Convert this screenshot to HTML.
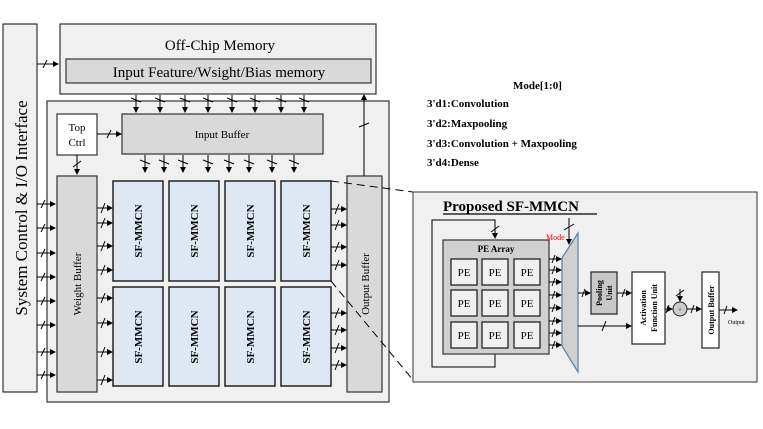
<!DOCTYPE html>
<html><head><meta charset="utf-8"><style>
html,body{margin:0;padding:0;background:#fff;}
svg{display:block;font-family:"Liberation Serif",serif;}
</style></head><body>
<svg width="763" height="429" viewBox="0 0 763 429" xmlns="http://www.w3.org/2000/svg">
<defs>
<marker id="a" markerWidth="6" markerHeight="6" refX="5" refY="3" orient="auto" markerUnits="userSpaceOnUse"><path d="M0,0 L6,3 L0,6 z" fill="#000"/></marker>
</defs>
<!-- System control -->
<rect x="3" y="24" width="34" height="368" fill="#f0f0f0" stroke="#333" stroke-width="1.2"/>
<text transform="translate(27,208) rotate(-90)" text-anchor="middle" font-size="17">System Control &amp; I/O Interface</text>
<!-- Off-chip -->
<rect x="60" y="24" width="316" height="70" fill="#f0f0f0" stroke="#333" stroke-width="1.2"/>
<text x="220" y="50" text-anchor="middle" font-size="15">Off-Chip Memory</text>
<rect x="66" y="59" width="305" height="24" fill="#d9d9d9" stroke="#333" stroke-width="1.2"/>
<text x="219" y="77" text-anchor="middle" font-size="15">Input Feature/Wsight/Bias memory</text>
<!-- main chip -->
<rect x="47" y="101" width="342" height="301" fill="#f0f0f0" stroke="#333" stroke-width="1.2"/>
<rect x="57" y="114" width="40" height="41" fill="#fff" stroke="#333" stroke-width="1.2"/>
<text x="77" y="131" text-anchor="middle" font-size="11">Top</text>
<text x="77" y="146" text-anchor="middle" font-size="11">Ctrl</text>
<rect x="122" y="114" width="201" height="40" fill="#d9d9d9" stroke="#333" stroke-width="1.2"/>
<text x="222" y="138" text-anchor="middle" font-size="11">Input Buffer</text>
<rect x="57" y="176" width="40" height="216" fill="#d9d9d9" stroke="#333" stroke-width="1.2"/>
<text transform="translate(81,284) rotate(-90)" text-anchor="middle" font-size="11">Weight Buffer</text>
<rect x="347" y="176" width="35" height="216" fill="#d9d9d9" stroke="#333" stroke-width="1.2"/>
<text transform="translate(369,284) rotate(-90)" text-anchor="middle" font-size="11">Output Buffer</text>
<g fill="#dde8f4" stroke="#222" stroke-width="1.5">
<rect x="113" y="181" width="50" height="100"/><rect x="169" y="181" width="50" height="100"/><rect x="225" y="181" width="50" height="100"/><rect x="281" y="181" width="50" height="100"/>
<rect x="113" y="287" width="50" height="99"/><rect x="169" y="287" width="50" height="99"/><rect x="225" y="287" width="50" height="99"/><rect x="281" y="287" width="50" height="99"/>
</g>
<g font-size="11" font-weight="bold" text-anchor="middle">
<text transform="translate(142,231) rotate(-90)">SF-MMCN</text><text transform="translate(198,231) rotate(-90)">SF-MMCN</text><text transform="translate(254,231) rotate(-90)">SF-MMCN</text><text transform="translate(310,231) rotate(-90)">SF-MMCN</text>
<text transform="translate(142,337) rotate(-90)">SF-MMCN</text><text transform="translate(198,337) rotate(-90)">SF-MMCN</text><text transform="translate(254,337) rotate(-90)">SF-MMCN</text><text transform="translate(310,337) rotate(-90)">SF-MMCN</text>
</g>
<g stroke="#000" stroke-width="1" fill="none">
<!-- sys -> offchip -->
<line x1="37" y1="64" x2="58" y2="64" marker-end="url(#a)"/><line x1="43" y1="68" x2="47" y2="60"/>
<!-- sys -> weight -->
<g id="sw">
<line x1="37" y1="204" x2="55" y2="204" marker-end="url(#a)"/><line x1="41" y1="208" x2="45" y2="200"/>
</g>
<use href="#sw" y="24"/><use href="#sw" y="49"/><use href="#sw" y="73"/><use href="#sw" y="97"/><use href="#sw" y="121"/><use href="#sw" y="148"/><use href="#sw" y="171"/>
<!-- offchip -> input buf -->
<g id="od"><line x1="136" y1="95" x2="136" y2="112" marker-end="url(#a)"/><line x1="131" y1="98" x2="141" y2="102"/></g>
<use href="#od" x="24"/><use href="#od" x="49"/><use href="#od" x="72"/><use href="#od" x="96"/><use href="#od" x="119"/><use href="#od" x="145"/><use href="#od" x="168"/>
<!-- input buf -> SF -->
<g id="id"><line x1="145" y1="155" x2="145" y2="172" marker-end="url(#a)"/><line x1="140" y1="160" x2="150" y2="164"/></g>
<use href="#id" x="19"/><use href="#id" x="38"/><use href="#id" x="63"/><use href="#id" x="84"/><use href="#id" x="104"/><use href="#id" x="127"/><use href="#id" x="149"/>
<!-- top ctrl -->
<line x1="97" y1="134" x2="121" y2="134" marker-end="url(#a)"/><line x1="107" y1="138" x2="111" y2="130"/>
<line x1="77" y1="155" x2="77" y2="174" marker-end="url(#a)"/><line x1="73" y1="167" x2="81" y2="161"/>
<!-- weight -> SF -->
<g id="ws"><line x1="97" y1="208" x2="112" y2="208" marker-end="url(#a)"/><line x1="101" y1="213" x2="105" y2="203"/></g>
<use href="#ws" y="15"/><use href="#ws" y="38"/><use href="#ws" y="62"/><use href="#ws" y="90"/><use href="#ws" y="115"/><use href="#ws" y="144"/><use href="#ws" y="172"/>
<!-- SF -> out -->
<g id="so"><line x1="331" y1="209" x2="346" y2="209" marker-end="url(#a)"/><line x1="335" y1="214" x2="339" y2="204"/></g>
<use href="#so" y="16"/><use href="#so" y="38"/><use href="#so" y="56"/><use href="#so" y="104"/><use href="#so" y="121"/><use href="#so" y="139"/><use href="#so" y="156"/>
<!-- out -> offchip -->
<line x1="364" y1="176" x2="364" y2="95" marker-end="url(#a)"/><line x1="359" y1="127" x2="369" y2="123"/>
<!-- dashed -->
<line x1="331" y1="181" x2="413" y2="192" stroke-dasharray="8,5"/>
<line x1="331" y1="281" x2="413" y2="380" stroke-dasharray="8,5"/>
</g>
<!-- Legend -->
<g font-size="11" font-weight="bold">
<text x="513" y="89">Mode[1:0]</text>
<text x="427" y="107">3'd1:Convolution</text>
<text x="427" y="127">3'd2:Maxpooling</text>
<text x="427" y="147">3'd3:Convolution + Maxpooling</text>
<text x="427" y="166">3'd4:Dense</text>
</g>
<!-- right panel -->
<rect x="413" y="192" width="344" height="190" fill="#f0f0f0" stroke="#333" stroke-width="1"/>
<text x="443" y="211" font-size="15" font-weight="bold">Proposed SF-MMCN</text>
<line x1="443" y1="214" x2="597" y2="214" stroke="#000" stroke-width="1.2"/>
<path d="M495,354 V367 H432 V220 H495 V238" fill="none" stroke="#000" stroke-width="1" marker-end="url(#a)"/>
<line x1="491" y1="232" x2="499" y2="226" stroke="#000"/>
<rect x="443" y="240" width="106" height="114" fill="#d0d0d0" stroke="#333" stroke-width="1.2"/>
<text x="496" y="252" text-anchor="middle" font-size="9" font-weight="bold">PE Array</text>
<g fill="#f0f0f0" stroke="#222" stroke-width="1.3">
<rect x="451" y="259" width="26" height="26"/><rect x="482" y="259" width="26" height="26"/><rect x="514" y="259" width="26" height="26"/>
<rect x="451" y="290" width="26" height="26"/><rect x="482" y="290" width="26" height="26"/><rect x="514" y="290" width="26" height="26"/>
<rect x="451" y="322" width="26" height="26"/><rect x="482" y="322" width="26" height="26"/><rect x="514" y="322" width="26" height="26"/>
</g>
<g font-size="11" text-anchor="middle">
<text x="464" y="276">PE</text><text x="495" y="276">PE</text><text x="527" y="276">PE</text>
<text x="464" y="307">PE</text><text x="495" y="307">PE</text><text x="527" y="307">PE</text>
<text x="464" y="339">PE</text><text x="495" y="339">PE</text><text x="527" y="339">PE</text>
</g>
<polygon points="562,258 578,233 578,372 562,346" fill="#d0d0d0" stroke="#5a7fa8" stroke-width="1.2"/>
<text x="546" y="240" font-size="8" fill="#e00">Mode</text>
<g stroke="#000" stroke-width="1" fill="none">
<line x1="569" y1="218" x2="569" y2="244" marker-end="url(#a)"/><line x1="564" y1="230" x2="574" y2="224"/>
<g id="pm"><line x1="549" y1="259" x2="561" y2="259" marker-end="url(#a)"/><line x1="552" y1="263" x2="555" y2="255"/></g>
<use href="#pm" y="11"/><use href="#pm" y="23"/><use href="#pm" y="36"/><use href="#pm" y="49"/><use href="#pm" y="62"/><use href="#pm" y="74"/><use href="#pm" y="86"/>
<line x1="578" y1="293" x2="590" y2="293" marker-end="url(#a)"/><line x1="582" y1="297" x2="585" y2="289"/>
<line x1="617" y1="293" x2="631" y2="293" marker-end="url(#a)"/><line x1="622" y1="297" x2="625" y2="289"/>
<line x1="578" y1="326" x2="631" y2="326" marker-end="url(#a)"/><line x1="602" y1="331" x2="606" y2="321"/>
<line x1="665" y1="309" x2="672" y2="309" marker-end="url(#a)"/><line x1="666" y1="313" x2="669" y2="305"/>
<line x1="680" y1="289" x2="680" y2="301" marker-end="url(#a)"/><line x1="676" y1="296" x2="684" y2="290"/>
<line x1="687" y1="309" x2="701" y2="309" marker-end="url(#a)"/><line x1="691" y1="313" x2="694" y2="305"/>
<line x1="719" y1="310" x2="737" y2="310" marker-end="url(#a)"/><line x1="724" y1="314" x2="727" y2="306"/>
</g>
<rect x="591" y="272" width="26" height="42" fill="#c8c8c8" stroke="#222" stroke-width="1.2"/>
<text transform="translate(602,293) rotate(-90)" text-anchor="middle" font-size="8" font-weight="bold">Pooling</text>
<text transform="translate(612,293) rotate(-90)" text-anchor="middle" font-size="8" font-weight="bold">Unit</text>
<rect x="632" y="272" width="33" height="72" fill="#fff" stroke="#222" stroke-width="1.2"/>
<text transform="translate(646,308) rotate(-90)" text-anchor="middle" font-size="8" font-weight="bold">Activation</text>
<text transform="translate(657,308) rotate(-90)" text-anchor="middle" font-size="8" font-weight="bold">Function Unit</text>
<circle cx="680" cy="309" r="7" fill="#ccc" stroke="#222"/>
<text x="680" y="312" text-anchor="middle" font-size="8" fill="#666">+</text>
<rect x="702" y="272" width="17" height="76" fill="#fff" stroke="#222" stroke-width="1.2"/>
<text transform="translate(714,310) rotate(-90)" text-anchor="middle" font-size="8" font-weight="bold">Output Buffer</text>
<text x="728" y="324" font-size="6">Output</text>
</svg>
</body></html>
